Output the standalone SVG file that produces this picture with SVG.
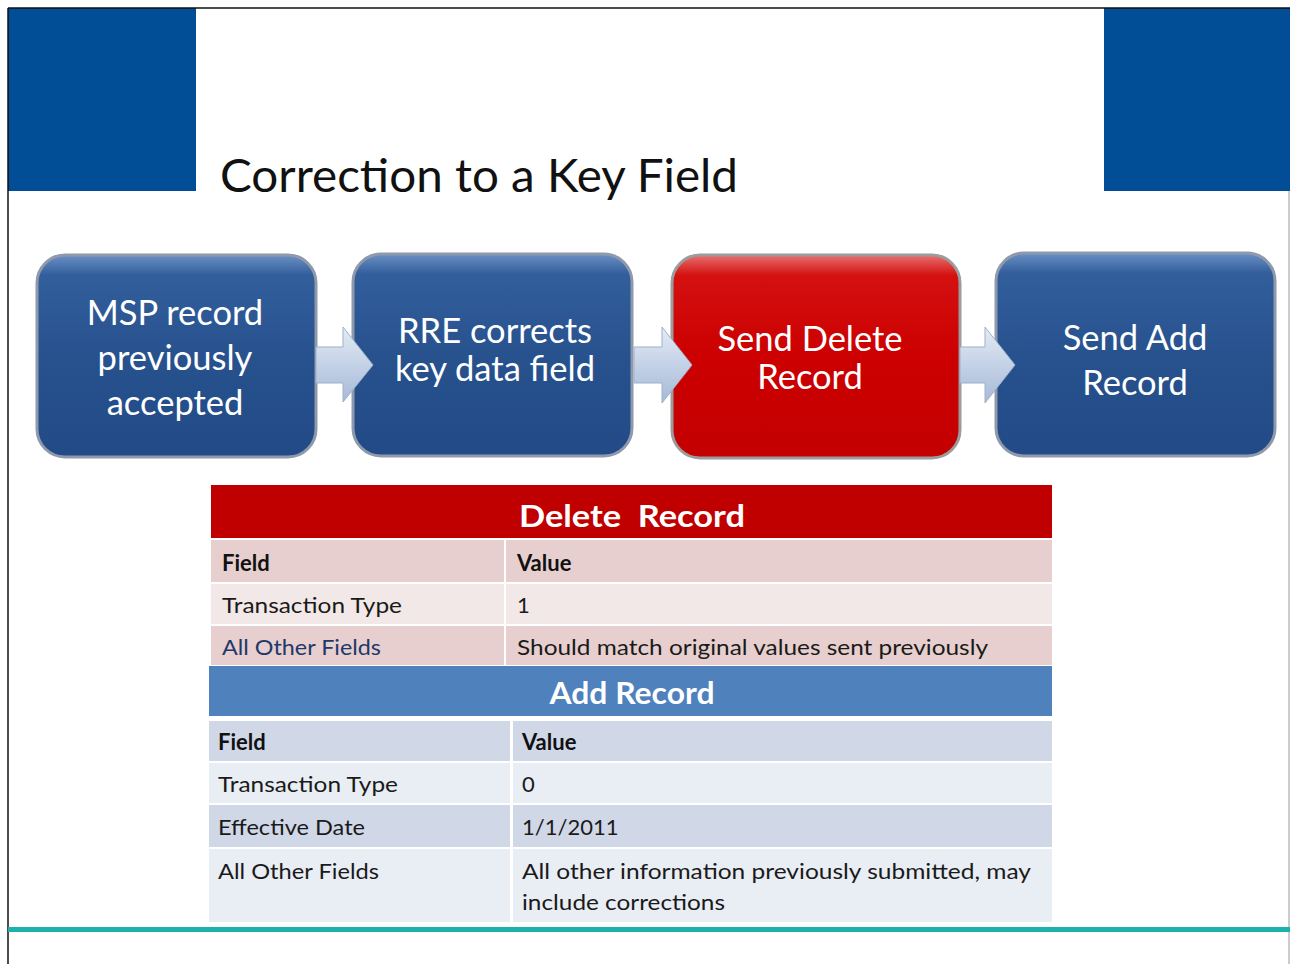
<svg xmlns="http://www.w3.org/2000/svg" width="1290" height="964" viewBox="0 0 1290 964">
<style>
.title{font-family:Lato,"Liberation Sans",sans-serif;font-size:47px;fill:#111}
.bt{font-family:Lato,"Liberation Sans",sans-serif;font-size:34.5px;fill:#fff;text-anchor:middle}
.th{font-family:Lato,"Liberation Sans",sans-serif;font-size:30px;font-weight:bold;fill:#fff;text-anchor:middle}
.tb{font-family:Lato,"Liberation Sans",sans-serif;font-size:22px;font-weight:bold;fill:#111}
.tt{font-family:Lato,"Liberation Sans",sans-serif;font-size:22px;fill:#1a1a1a}
.blue{fill:url(#gBlue);stroke:#8e9aab;stroke-width:3}
.red{fill:url(#gRed);stroke:#9c9c9c;stroke-width:3}
.arrow{fill:url(#gArrow);stroke:#9fb0c8;stroke-width:1}
</style>
<defs>
<linearGradient id="gBlue" x1="0" y1="0" x2="0" y2="1">
<stop offset="0" stop-color="#6b90c4"/>
<stop offset="0.1" stop-color="#325e9c"/>
<stop offset="0.5" stop-color="#27528e"/>
<stop offset="1" stop-color="#224a86"/>
</linearGradient>
<linearGradient id="gRed" x1="0" y1="0" x2="0" y2="1">
<stop offset="0" stop-color="#e87070"/>
<stop offset="0.1" stop-color="#d41010"/>
<stop offset="0.5" stop-color="#cc0000"/>
<stop offset="1" stop-color="#c40000"/>
</linearGradient>
<linearGradient id="gArrow" x1="0" y1="0" x2="0" y2="1">
<stop offset="0" stop-color="#e4ebf5"/>
<stop offset="0.5" stop-color="#c4d2e7"/>
<stop offset="1" stop-color="#a6b9d6"/>
</linearGradient>
</defs>
<rect width="1290" height="964" fill="#fff"/>
<g id="frame">
<rect x="8" y="8" width="188" height="183" fill="#014e96"/>
<rect x="1104" y="8" width="186" height="183" fill="#014e96"/>
<line x1="8" y1="8" x2="1290" y2="8" stroke="#111" stroke-width="1.5"/>
<line x1="8" y1="8" x2="8" y2="964" stroke="#111" stroke-width="1.5"/>
<line x1="1289" y1="191" x2="1289" y2="964" stroke="#999" stroke-width="1"/>
<rect x="8" y="927" width="1282" height="5" fill="#1db1ab"/>
</g>
<text class="title" x="220" y="192" textLength="518" lengthAdjust="spacingAndGlyphs">Correction to a Key Field</text>
<g id="node-msp">
<rect class="blue" x="37" y="255" width="279" height="202" rx="28"/>
<text class="bt" x="175" y="325">MSP record</text>
<text class="bt" x="175" y="370">previously</text>
<text class="bt" x="175" y="415">accepted</text>
</g>
<g id="node-rre">
<rect class="blue" x="353" y="254" width="279" height="202" rx="28"/>
<text class="bt" x="495" y="343">RRE corrects</text>
<text class="bt" x="495" y="381">key data field</text>
</g>
<g id="node-delete">
<rect class="red" x="672" y="255" width="288" height="203" rx="28"/>
<text class="bt" x="810" y="351">Send Delete</text>
<text class="bt" x="810" y="389">Record</text>
</g>
<g id="node-add">
<rect class="blue" x="996" y="253" width="279" height="203" rx="28"/>
<text class="bt" x="1135" y="350">Send Add</text>
<text class="bt" x="1135" y="395">Record</text>
</g>
<g id="connectors">
<polygon class="arrow" points="316,347 343,347 343,327 373,365 343,402 343,383 316,383"/>
<polygon class="arrow" points="634,347 662,347 662,327 692,365 662,403 662,383 634,383"/>
<polygon class="arrow" points="960,347 985,347 985,327 1015,365 985,403 985,383 960,383"/>
</g>
<g id="table-delete">
<rect x="211" y="485" width="841" height="53" fill="#c00000"/>
<text class="th" x="632" y="527" textLength="226" lengthAdjust="spacingAndGlyphs" xml:space="preserve">Delete  Record</text>
<rect x="211" y="540" width="293" height="42" fill="#e6cfce"/>
<rect x="506" y="540" width="546" height="42" fill="#e6cfce"/>
<rect x="211" y="584" width="293" height="40" fill="#f2e8e7"/>
<rect x="506" y="584" width="546" height="40" fill="#f2e8e7"/>
<rect x="211" y="626" width="293" height="39" fill="#e6cfce"/>
<rect x="506" y="626" width="546" height="39" fill="#e6cfce"/>
<text class="tb" x="222" y="571">Field</text>
<text class="tb" x="517" y="571">Value</text>
<text class="tt" x="222" y="613" textLength="180" lengthAdjust="spacingAndGlyphs">Transaction Type</text>
<text class="tt" x="517" y="613">1</text>
<text class="tt" x="222" y="655" style="fill:#22386a" textLength="159" lengthAdjust="spacingAndGlyphs">All Other Fields</text>
<text class="tt" x="517" y="655" textLength="471" lengthAdjust="spacingAndGlyphs">Should match original values sent previously</text>
</g>
<g id="table-add">
<rect x="209" y="666" width="843" height="50" fill="#4f81bd"/>
<text class="th" x="632" y="704" textLength="165" lengthAdjust="spacingAndGlyphs">Add Record</text>
<rect x="209" y="721" width="301" height="40" fill="#d0d8e8"/>
<rect x="513" y="721" width="539" height="40" fill="#d0d8e8"/>
<rect x="209" y="763" width="301" height="40" fill="#e9edf4"/>
<rect x="513" y="763" width="539" height="40" fill="#e9edf4"/>
<rect x="209" y="805" width="301" height="42" fill="#d0d8e8"/>
<rect x="513" y="805" width="539" height="42" fill="#d0d8e8"/>
<rect x="209" y="849" width="301" height="73" fill="#e9edf4"/>
<rect x="513" y="849" width="539" height="73" fill="#e9edf4"/>
<text class="tb" x="218" y="750">Field</text>
<text class="tb" x="522" y="750">Value</text>
<text class="tt" x="218" y="792" textLength="180" lengthAdjust="spacingAndGlyphs">Transaction Type</text>
<text class="tt" x="522" y="792">0</text>
<text class="tt" x="218" y="835" textLength="147" lengthAdjust="spacingAndGlyphs">Effective Date</text>
<text class="tt" x="522" y="835">1/1/2011</text>
<text class="tt" x="218" y="879" textLength="161" lengthAdjust="spacingAndGlyphs">All Other Fields</text>
<text class="tt" x="522" y="879" textLength="509" lengthAdjust="spacingAndGlyphs">All other information previously submitted, may</text>
<text class="tt" x="522" y="910" textLength="203" lengthAdjust="spacingAndGlyphs">include corrections</text>
</g>
</svg>
